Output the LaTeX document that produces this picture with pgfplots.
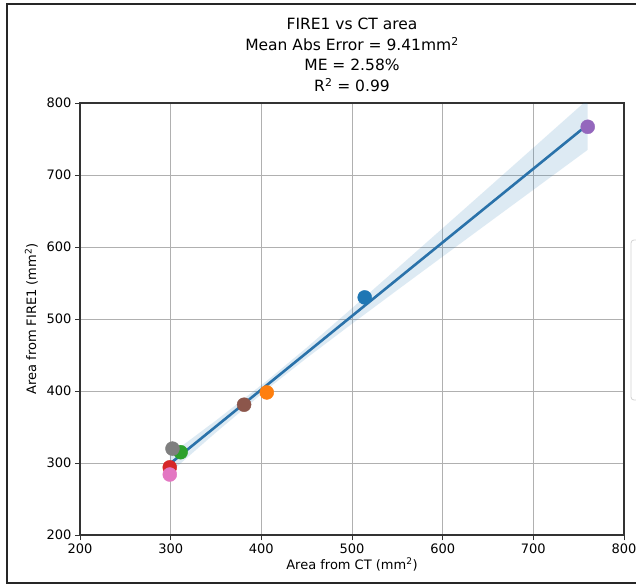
\documentclass[border=0pt]{standalone}
\usepackage{pgfplots}
\pgfplotsset{compat=1.18}
\usepackage{fontspec}
\setmainfont{DejaVu Sans}
\definecolor{tabblue}{HTML}{1F77B4}
\definecolor{lineblue}{HTML}{2A72AA}
\definecolor{taborange}{HTML}{FF7F0E}
\definecolor{tabgreen}{HTML}{2CA02C}
\definecolor{tabred}{HTML}{D62728}
\definecolor{tabpurple}{HTML}{9467BD}
\definecolor{tabbrown}{HTML}{8C564B}
\definecolor{tabpink}{HTML}{E377C2}
\definecolor{tabgray}{HTML}{7F7F7F}
\definecolor{gridgray}{HTML}{B0B0B0}
\begin{document}
\begin{tikzpicture}
\clip (0,0) rectangle (636pt,586pt);
\fill[white] (0,0) rectangle (636pt,586pt);
\draw[black!85, line width=1.6pt] (7pt,3pt) rectangle (660pt,582pt);
\draw[gray!35, line width=0.8pt, rounded corners=3pt] (631pt,186pt) rectangle (680pt,346pt);
\begin{axis}[
  at={(80pt,51pt)}, anchor=origin,
  scale only axis, width=544pt, height=432pt,
  xmin=200, xmax=800, ymin=200, ymax=800,
  xtick={200,300,...,800}, ytick={200,300,...,800},
  grid=major,
  major grid style={gridgray, line width=0.9pt},
  axis line style={black!80, line width=1.3pt},
  tick style={black!80, line width=1pt},
  tick align=outside, major tick length=5pt,
  xtick pos=bottom, ytick pos=left,
  tick label style={font=\fontsize{13}{15}\selectfont},
  /pgf/number format/assume math mode=true,
  /pgf/number format/1000 sep={},
  xlabel={Area from CT (mm\textsuperscript{2})},
  ylabel={Area from FIRE1 (mm\textsuperscript{2})},
  label style={font=\fontsize{13}{15}\selectfont},
  xlabel style={yshift=2pt},
  ylabel style={yshift=2pt},
  title={FIRE1 vs CT area\\Mean Abs Error = 9.41mm\textsuperscript{2}\\ME = 2.58\%\\R\textsuperscript{2} = 0.99},
  title style={align=center, font=\fontsize{15.5}{20.5}\selectfont, anchor=south, at={(0.5,1)}, yshift=2pt},
  clip=true,
  every axis plot post/.append style={mark size=7pt},
]
% scatter points (tab10 order)
\addplot[tabblue, only marks, mark=*] coordinates {(514,530)};
\addplot[taborange, only marks, mark=*] coordinates {(406,398)};
\addplot[tabgreen, only marks, mark=*] coordinates {(311,315)};
\addplot[tabred, only marks, mark=*] coordinates {(299,294)};
\addplot[tabpurple, only marks, mark=*] coordinates {(760,767)};
\addplot[tabbrown, only marks, mark=*] coordinates {(381,381)};
\addplot[tabpink, only marks, mark=*] coordinates {(299,284)};
\addplot[tabgray, only marks, mark=*] coordinates {(302,320)};
% confidence band
\addplot[draw=none, fill=tabblue, fill opacity=0.15] coordinates {
 (299,311.1) (350,359.1) (409,417.1) (450,460.2) (500,515.0) (550,570.4) (600,626.1) (650,681.9) (700,737.8) (760,805)
 (760,735) (700,679.4) (650,633.1) (600,586.7) (550,540.2) (500,493.4) (450,445.8) (409,405.1) (350,342.5) (299,286.3)
} -- cycle;
% regression line
\addplot[lineblue, line width=2.6pt] coordinates {(299,298.7) (760,770)};
\end{axis}
\end{tikzpicture}
\end{document}
